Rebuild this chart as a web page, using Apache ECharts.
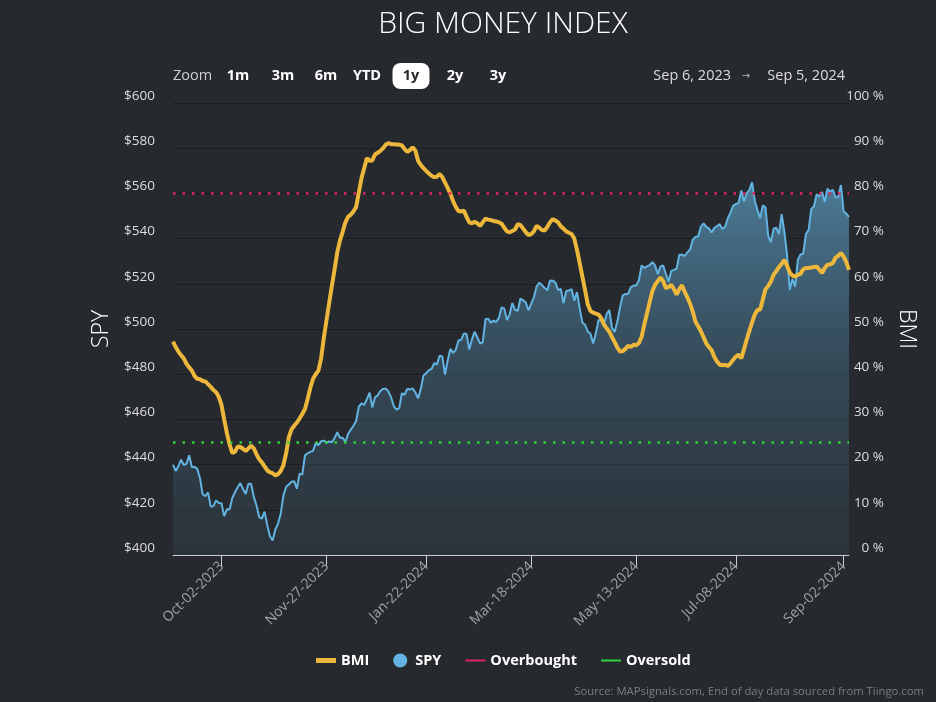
<!DOCTYPE html>
<html>
<head>
<meta charset="utf-8">
<script src="https://cdn.jsdelivr.net/npm/echarts@6/dist/echarts.min.js"></script>
<style>html,body{margin:0;padding:0;background:#26292d}#c{width:936px;height:702px}</style>
</head>
<body>
<div id="c"></div>
<script>
// ---------------- DATA ----------------
const START_DATE = '2023-09-06';
const END_DATE = '2024-09-05';
const HOLIDAYS = ['2023-11-23','2023-12-25','2024-01-01','2024-01-15','2024-02-19','2024-03-29','2024-05-27','2024-06-19','2024-07-04','2024-09-02'];
const TICK_WEEKS = ['2023-10-02','2023-11-27','2024-01-22','2024-03-18','2024-05-13','2024-07-08','2024-09-02'];

const SPY = [
 // Sep 2023
 440.0,437.2,439.3,442.2,439.8,440.3,444.1,438.8,439.0,438.1,434.1,426.9,426.0,427.7,421.5,421.6,424.1,423.0,
 // Oct
 422.9,417.2,420.2,420.1,425.1,427.8,430.0,431.8,429.2,427.0,431.5,431.5,425.7,422.0,416.8,416.1,419.2,413.2,408.3,406.4,411.3,413.9,
 // Nov
 418.3,426.3,430.2,431.2,432.4,432.7,429.3,436.0,435.6,444.1,445.0,445.6,446.1,449.5,448.6,450.3,450.6,449.8,450.2,449.9,451.7,
 // Dec
 454.3,451.9,451.9,450.0,453.5,455.4,457.2,459.3,465.6,467.1,466.4,469.0,471.8,465.3,469.7,470.7,472.6,473.5,473.7,472.3,
 // Jan 2024
 469.7,465.8,464.3,465.0,471.6,470.9,473.5,473.3,473.7,471.9,469.3,473.5,479.4,480.4,481.8,482.3,484.9,484.3,488.2,487.8,479.8,
 // Feb
 486.1,491.2,489.4,490.8,494.9,495.2,498.0,497.8,490.9,495.4,498.8,496.3,493.6,494.1,504.3,504.6,502.8,503.7,503.1,504.9,
 // Mar
 509.6,509.1,504.0,506.5,511.5,508.5,508.0,513.5,512.7,511.7,508.2,511.2,514.0,518.8,520.5,519.5,518.1,517.1,521.5,521.4,
 // Apr
 520.5,517.2,517.7,511.4,516.8,517.0,517.6,512.5,516.3,509.2,502.8,501.9,498.9,497.9,493.6,498.1,504.0,503.8,501.9,506.6,508.4,500.4,
 // May
 498.7,503.4,509.6,514.9,515.5,515.5,518.5,519.2,519.2,521.6,528.1,527.0,527.7,528.3,529.6,528.1,524.3,527.7,528.1,524.4,520.9,525.7,
 // Jun
 526.1,526.7,532.9,532.9,532.3,533.9,535.2,539.6,540.7,541.0,545.3,546.7,545.2,544.5,542.7,544.8,545.5,546.4,544.2,
 // Jul
 545.3,549.0,551.5,554.6,555.3,555.8,561.3,556.5,560.0,561.5,564.9,556.9,552.7,549.0,554.7,553.8,541.2,538.4,544.4,544.8,542.0,550.8,
 // Aug
 543.0,532.9,517.4,522.2,518.7,530.7,533.0,533.3,542.0,543.8,553.1,554.3,559.6,558.7,560.6,556.2,562.1,560.8,561.6,558.3,558.4,563.7,
 // Sep
 552.1,551.0,549.6
];

const BMI = [
 47.2,46.0,45.0,44.2,43.5,42.3,41.5,40.8,39.6,39.0,
 38.9,38.5,38.4,37.8,37.2,36.5,36.0,35.0,33.2,30.0,
 27.0,24.5,22.6,22.8,24.0,23.9,23.5,23.0,23.6,24.2,
 23.6,22.3,21.2,20.5,19.6,18.7,18.3,18.1,17.6,17.9,
 18.6,19.9,22.5,26.0,27.8,28.6,29.3,30.2,31.2,32.3,
 34.5,37.0,39.0,40.0,40.8,43.5,48.0,52.0,55.8,59.6,
 63.2,67.0,69.6,71.5,73.6,74.8,75.3,76.0,77.0,80.2,
 83.4,85.6,87.8,87.2,87.3,88.6,89.0,89.4,90.0,90.8,
 91.1,90.9,90.9,90.8,90.8,90.6,89.8,89.2,89.6,90.2,
 89.5,87.2,86.3,85.6,85.0,84.4,83.9,83.6,83.7,84.3,
 83.6,82.4,81.2,79.9,78.3,77.0,76.1,76.0,76.2,74.8,
 73.6,73.4,73.7,73.4,72.8,73.6,74.4,74.2,74.1,73.9,
 73.8,73.6,73.3,72.4,71.6,71.4,71.7,72.0,73.2,73.0,
 72.2,71.4,70.8,71.0,71.6,72.8,72.4,71.9,71.8,72.6,
 73.6,74.3,74.0,73.6,72.7,72.2,71.6,71.3,71.0,70.0,
 67.5,64.6,61.6,58.6,55.5,54.0,53.6,53.4,53.2,52.4,
 51.0,50.2,49.4,48.2,47.1,45.9,45.0,45.1,45.6,46.3,
 46.0,46.5,46.4,46.9,48.3,51.0,53.5,56.0,58.4,59.8,
 60.6,61.4,60.6,59.0,59.3,59.8,58.8,57.6,58.8,59.7,
 58.2,57.0,55.6,53.8,51.6,50.6,49.5,48.2,46.8,46.0,
 45.3,43.8,42.8,42.1,42.0,42.1,41.8,42.4,43.2,43.9,
 44.3,43.5,45.5,47.6,49.6,51.4,53.2,54.2,54.3,56.5,
 58.8,59.5,60.5,62.0,62.8,63.7,64.4,65.3,64.0,62.5,
 61.8,61.6,62.0,62.2,63.2,63.5,63.5,63.6,63.7,63.8,
 63.1,62.4,63.5,64.2,64.3,64.6,65.8,66.2,66.8,66.0,
 64.8,63.1
];

const OVERBOUGHT = 80;
const OVERSOLD = 25;

const SPY_TICKS = { min: 400, max: 600, step: 20 };
const BMI_TICKS = { min: 0, max: 100, step: 10 };

const ZOOM_BUTTONS = ['1m','3m','6m','YTD','1y','2y','3y'];
const SELECTED_BUTTON = '1y';
const RANGE_FROM = 'Sep 6, 2023';
const RANGE_TO = 'Sep 5, 2024';

// ---------------- helpers ----------------
function pad(n){ return (n<10?'0':'') + n; }
function iso(d){ return d.getUTCFullYear()+'-'+pad(d.getUTCMonth()+1)+'-'+pad(d.getUTCDate()); }
function tradingDays(start, end, holidays){
  const out = [];
  const d = new Date(start+'T00:00:00Z');
  const e = new Date(end+'T00:00:00Z');
  while (d <= e){
    const dow = d.getUTCDay();
    const s = iso(d);
    if (dow !== 0 && dow !== 6 && holidays.indexOf(s) < 0) out.push(s);
    d.setUTCDate(d.getUTCDate()+1);
  }
  return out;
}
function mondayOf(s){
  const d = new Date(s+'T00:00:00Z');
  const dow = d.getUTCDay();
  d.setUTCDate(d.getUTCDate() - ((dow+6)%7));
  return iso(d);
}
const MONTHS = ['Jan','Feb','Mar','Apr','May','Jun','Jul','Aug','Sep','Oct','Nov','Dec'];
function fmtTick(s){
  const p = s.split('-');
  return MONTHS[+p[1]-1] + '-' + p[2] + '-' + p[0];
}

const DATES = tradingDays(START_DATE, END_DATE, HOLIDAYS);
const SHOW = DATES.map((s,i) => TICK_WEEKS.indexOf(mondayOf(s)) >= 0 && (i === 0 || mondayOf(DATES[i-1]) !== mondayOf(s)));
const showFn = (idx) => !!SHOW[idx];

// ---------------- chart ----------------
const FONT = "'Open Sans', 'DejaVu Sans', sans-serif";
const chart = echarts.init(document.getElementById('c'));

const graphics = [];
graphics.push({ type:'text', x: 503, y: 24, style:{ text:'BIG MONEY INDEX', fill:'#ffffff', font:'300 30px '+FONT, textAlign:'center', textVerticalAlign:'middle' } });
graphics.push({ type:'text', x:173, y:76, style:{ text:'Zoom', fill:'#cfcfcf', font:'400 14.5px '+FONT, textVerticalAlign:'middle' } });
const BTN_X = [238,283,326,367,411,455,498];
ZOOM_BUTTONS.forEach((b,i) => {
  const sel = b === SELECTED_BUTTON;
  if (sel) graphics.push({ type:'rect', shape:{ x:BTN_X[i]-18.5, y:63, width:37, height:26, r:8 }, style:{ fill:'#ffffff' } });
  graphics.push({ type:'text', x:BTN_X[i], y:76, style:{ text:b, fill: sel ? '#26292d' : '#ffffff', font:'700 14.5px '+FONT, textAlign:'center', textVerticalAlign:'middle' } });
});
graphics.push({ type:'text', x:731, y:76, style:{ text:RANGE_FROM, fill:'#dddddd', font:'400 14.5px '+FONT, textAlign:'right', textVerticalAlign:'middle' } });
graphics.push({ type:'text', x:746, y:76, style:{ text:'→', fill:'#bbbbbb', font:'400 10px '+FONT, textAlign:'center', textVerticalAlign:'middle' } });
graphics.push({ type:'text', x:845, y:76, style:{ text:RANGE_TO, fill:'#dddddd', font:'400 14.5px '+FONT, textAlign:'right', textVerticalAlign:'middle' } });
graphics.push({ type:'text', x:924, y:692, style:{ text:'Source: MAPsignals.com, End of day data sourced from Tiingo.com', fill:'#7d7d7d', font:'400 11.3px '+FONT, textAlign:'right', textVerticalAlign:'middle' } });

const option = {
  backgroundColor: '#26292d',
  animation: false,
  textStyle: { fontFamily: FONT },
  graphic: graphics,
  grid: { left: 173, right: 87, top: 103, bottom: 147 },
  legend: {
    left: 311, top: 648,
    itemWidth: 20, itemHeight: 14, itemGap: 24,
    textStyle: { color:'#ffffff', fontWeight:'bold', fontSize:14.5, fontFamily: FONT },
    data: [
      { name:'BMI', icon:'path://M0,0H20V5H0Z' },
      { name:'SPY', icon:'circle' },
      { name:'Overbought', icon:'path://M0,0H20V2H0Z' },
      { name:'Oversold', icon:'path://M0,0H20V2H0Z' }
    ]
  },
  xAxis: {
    type: 'category',
    data: DATES,
    boundaryGap: false,
    axisLine: { lineStyle: { color:'#c8d0dc', width:1 } },
    axisTick: { interval: showFn, length: 12, lineStyle: { color:'#c8d0dc' } },
    axisLabel: { interval: showFn, rotate: 45, color:'#a3a3a3', fontSize: 14, margin: 9, formatter: (v) => fmtTick(mondayOf(v)) },
    splitLine: { show: false }
  },
  yAxis: [
    {
      type:'value', position:'left',
      min: SPY_TICKS.min, max: SPY_TICKS.max, interval: SPY_TICKS.step,
      name:'SPY', nameLocation:'middle', nameGap: 60, nameRotate: 90,
      nameTextStyle: { color:'#ffffff', fontSize: 23, fontWeight: 300 },
      axisLine: { show:false }, axisTick: { show:false },
      axisLabel: { formatter:'${value}', color:'#dddddd', fontSize: 13.5, margin: 18, verticalAlign:'bottom' },
      splitLine: { lineStyle: { color:'#1b1e21', width: 1 } }
    },
    {
      type:'value', position:'right',
      min: BMI_TICKS.min, max: BMI_TICKS.max, interval: BMI_TICKS.step,
      name:'BMI', nameLocation:'middle', nameGap: 45, nameRotate: -90,
      nameTextStyle: { color:'#ffffff', fontSize: 23, fontWeight: 300 },
      axisLine: { show:false }, axisTick: { show:false },
      axisLabel: { formatter:'{value} %', color:'#dddddd', fontSize: 13.5, margin: 35, align:'right', verticalAlign:'bottom' },
      splitLine: { show:false }
    }
  ],
  series: [
    {
      name:'SPY', type:'line', yAxisIndex:0, data: SPY, color:'#62b3e2',
      symbol:'none', z: 2,
      lineStyle: { color:'#62b3e2', width: 2 },
      areaStyle: {
        color: new echarts.graphic.LinearGradient(0,0,0,1,[
          { offset:0, color:'rgba(95,165,205,0.95)' },
          { offset:0.5, color:'rgba(75,125,155,0.55)' },
          { offset:1, color:'rgba(60,85,100,0.35)' }
        ])
      }
    },
    {
      name:'BMI', type:'line', yAxisIndex:1, data: BMI, color:'#ecb73b',
      symbol:'none', z: 4,
      lineStyle: { color:'#ecb73b', width: 4 }
    },
    {
      name:'Overbought', type:'line', yAxisIndex:1, data: [], color:'#e3255f', z: 3,
      markLine: { symbol:'none', silent:true, label:{ show:false },
        lineStyle:{ color:'#e3255f', type:[2.5,7], width:2.5 },
        data:[ { yAxis: OVERBOUGHT } ] }
    },
    {
      name:'Oversold', type:'line', yAxisIndex:1, data: [], color:'#2fd33a', z: 3,
      markLine: { symbol:'none', silent:true, label:{ show:false },
        lineStyle:{ color:'#2fd33a', type:[2.5,7], width:2.5 },
        data:[ { yAxis: OVERSOLD } ] }
    }
  ]
};
chart.setOption(option);
</script>
</body>
</html>
